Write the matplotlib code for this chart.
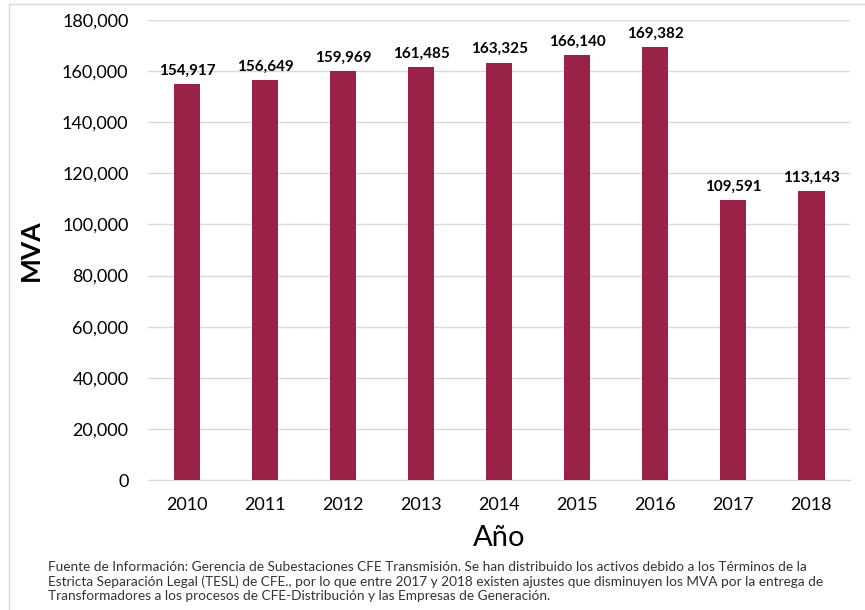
import matplotlib.pyplot as plt
from matplotlib.patches import Rectangle
from matplotlib.ticker import FuncFormatter

years = ["2010", "2011", "2012", "2013", "2014", "2015", "2016", "2017", "2018"]
mva = [154917, 156649, 159969, 161485, 163325, 166140, 169382, 109591, 113143]

footnote = ("Fuente de Información: Gerencia de Subestaciones CFE Transmisión. Se han distribuido los activos debido a los Términos de la\n"
            "Estricta Separación Legal (TESL) de CFE., por lo que entre 2017 y 2018 existen ajustes que disminuyen los MVA por la entrega de\n"
            "Transformadores a los procesos de CFE-Distribución y las Empresas de Generación.")

plt.rcParams["font.family"] = ["Lato", "DejaVu Sans"]

fig = plt.figure(figsize=(8.65, 6.1), dpi=100)
ax = fig.add_axes([0.171, 0.2131, 0.812, 0.754])

bar_color = "#9B2247"
x = range(len(years))
bars = ax.bar(x, mva, width=0.34, color=bar_color, zorder=3)

for b, v in zip(bars, mva):
    ax.text(b.get_x() + b.get_width() / 2, v + 2500, f"{v:,}",
            ha="center", va="bottom", fontsize=11, fontweight="bold", color="black")

ax.set_ylim(0, 180000)
ax.set_xlim(-0.5, len(years) - 0.5)
ax.set_yticks(range(0, 180001, 20000))
ax.yaxis.set_major_formatter(FuncFormatter(lambda v, p: f"{int(v):,}"))
ax.set_xticks(list(x))
ax.set_xticklabels(years)
ax.tick_params(axis="both", length=0, labelsize=13, colors="black")
ax.tick_params(axis="x", pad=12)
ax.tick_params(axis="y", pad=14)

ax.grid(axis="y", color="#d9d9d9", linewidth=1, zorder=0)
for s in ["top", "right", "left"]:
    ax.spines[s].set_visible(False)
ax.spines["bottom"].set_color("#d9d9d9")

ax.set_ylabel("MVA", fontsize=19, fontweight="bold", labelpad=14)
ax.set_xlabel("Año", fontsize=21, labelpad=9)

fig.text(0.056, 0.08, footnote, fontsize=9.8, ha="left", va="top",
         color="#333333", linespacing=1.2)

fig.patches.append(Rectangle((0.01, -0.01), 1.2, 1.003, transform=fig.transFigure,
                             fill=False, edgecolor="#d9d9d9", linewidth=1))

fig.savefig("out.png", dpi=100)
